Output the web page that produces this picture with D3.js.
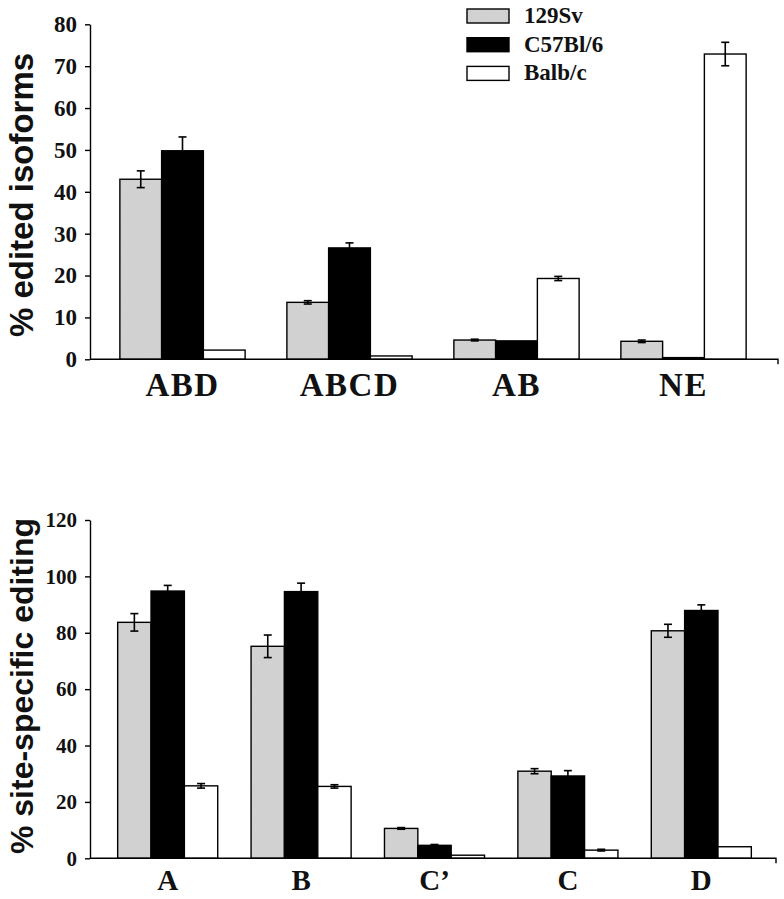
<!DOCTYPE html>
<html>
<head>
<meta charset="utf-8">
<script src="https://cdn.jsdelivr.net/npm/d3@7"></script>
<style>
  body { margin: 0; background: #fff; }
  svg text { fill: #111; }
  .tick text { font-family: "Liberation Serif", serif; font-weight: bold; }
</style>
</head>
<body>
<svg id="chart" width="784" height="899"></svg>
<script>
// strains (series)
var strains = ["129Sv", "C57Bl/6", "Balb/c"];
var fills = ["url(#speckle)", "#000000", "#ffffff"];

// top panel: isoforms
var isoforms = ["ABD", "ABCD", "AB", "NE"];
var isoMean = [
  [43.0, 49.8, 2.2],
  [13.6, 26.6, 0.8],
  [4.6, 4.4, 19.3],
  [4.3, 0.4, 72.9]
];
var isoErr = [
  [2.0, 3.3, 0],
  [0.4, 1.2, 0],
  [0.2, 0, 0.5],
  [0.3, 0, 2.8]
];
var isoTicks = [0, 10, 20, 30, 40, 50, 60, 70, 80];

// bottom panel: editing sites
var sites = ["A", "B", "C\u2019", "C", "D"];
var siteMean = [
  [83.7, 94.8, 25.7],
  [75.2, 94.6, 25.5],
  [10.6, 4.6, 1.1],
  [30.9, 29.2, 2.9],
  [80.7, 87.9, 4.1]
];
var siteErr = [
  [3.1, 2.0, 0.8],
  [4.0, 3.0, 0.6],
  [0.3, 0.3, 0],
  [0.9, 1.9, 0.3],
  [2.3, 2.0, 0]
];
var siteTicks = [0, 20, 40, 60, 80, 100, 120];

var svg = d3.select("#chart");

// grainy light grey like the printed figure
var defs = svg.append("defs");
var filt = defs.append("filter").attr("id", "grain")
    .attr("x", 0).attr("y", 0).attr("width", 1).attr("height", 1);
filt.append("feTurbulence")
    .attr("type", "fractalNoise")
    .attr("baseFrequency", 0.9)
    .attr("numOctaves", 2)
    .attr("seed", 3);
filt.append("feColorMatrix")
    .attr("type", "matrix")
    .attr("values", "0 0 0 0 0.72  0 0 0 0 0.72  0 0 0 0 0.72  0 0 0 0.55 0");
var pat = defs.append("pattern").attr("id", "speckle")
    .attr("patternUnits", "userSpaceOnUse")
    .attr("width", 120).attr("height", 120);
pat.append("rect").attr("width", 120).attr("height", 120).style("fill", "#cdcdcd");
pat.append("rect").attr("width", 120).attr("height", 120).attr("filter", "url(#grain)");

function panel(opts) {
  var g = svg.append("g");

  var x0 = d3.scaleBand()
      .domain(opts.cats)
      .range(opts.xRange)
      .paddingInner(0.25)
      .paddingOuter(0.125);

  var x1 = d3.scaleBand()
      .domain(d3.range(strains.length))
      .range([0, x0.bandwidth()]);

  var y = d3.scaleLinear()
      .domain([0, opts.yMax])
      .range(opts.yRange);

  // bars
  var groups = g.selectAll(".grp")
      .data(opts.cats)
    .enter().append("g")
      .attr("transform", function(d) { return "translate(" + x0(d) + ",0)"; });

  groups.selectAll("rect")
      .data(function(d, i) {
        return opts.mean[i].map(function(v, j) { return {v: v, e: opts.err[i][j], s: j}; });
      })
    .enter().append("rect")
      .attr("x", function(d) { return x1(d.s); })
      .attr("width", x1.bandwidth())
      .attr("y", function(d) { return y(d.v); })
      .attr("height", function(d) { return y(0) - y(d.v); })
      .style("fill", function(d) { return fills[d.s]; })
      .style("stroke", "#000")
      .style("stroke-width", 1.4);

  // error bars
  var eb = groups.selectAll(".eb")
      .data(function(d, i) {
        return opts.mean[i].map(function(v, j) { return {v: v, e: opts.err[i][j], s: j}; })
          .filter(function(d) { return d.e > 0; });
      })
    .enter().append("g")
      .attr("class", "eb")
      .style("stroke", "#000")
      .style("stroke-width", 1.6);

  var cx = function(d) { return x1(d.s) + x1.bandwidth() / 2; };
  eb.append("line")
      .attr("x1", cx).attr("x2", cx)
      .attr("y1", function(d) { return y(d.v + d.e); })
      .attr("y2", function(d) { return y(d.v - d.e); });
  eb.append("line")
      .attr("x1", function(d) { return cx(d) - 4; })
      .attr("x2", function(d) { return cx(d) + 4; })
      .attr("y1", function(d) { return y(d.v + d.e); })
      .attr("y2", function(d) { return y(d.v + d.e); });
  eb.append("line")
      .attr("x1", function(d) { return cx(d) - 4; })
      .attr("x2", function(d) { return cx(d) + 4; })
      .attr("y1", function(d) { return y(d.v - d.e); })
      .attr("y2", function(d) { return y(d.v - d.e); });

  // y axis
  var ya = g.append("g")
      .attr("transform", "translate(" + opts.axisX + ",0)")
      .call(d3.axisLeft(y).tickValues(opts.ticks).tickSize(5).tickSizeOuter(0).tickPadding(8));
  ya.selectAll("path, line").style("stroke", "#000").style("stroke-width", 1.4);
  ya.selectAll("text").style("font-size", opts.tickFont + "px").style("fill", "#111");

  // x axis line with end tick
  g.append("path")
      .attr("d", "M" + opts.axisX + "," + y(0) + "H" + opts.axisEnd + "V" + (y(0) + 5))
      .style("fill", "none")
      .style("stroke", "#000")
      .style("stroke-width", 1.4);

  var xa = g.append("g")
      .attr("transform", "translate(0," + y(0) + ")")
      .call(d3.axisBottom(x0).tickSize(0).tickPadding(opts.labelPad));
  xa.select(".domain").remove();
  xa.selectAll("text")
      .style("font-size", opts.labelFont + "px")
      .style("letter-spacing", opts.labelSpace + "px")
      .style("fill", "#111");

  // y title
  g.append("text")
      .attr("transform", "translate(" + opts.titleX + "," + opts.titleY + ") rotate(-90)")
      .attr("text-anchor", "middle")
      .style("font-family", "'Liberation Sans', Arial, sans-serif")
      .style("font-weight", "bold")
      .style("font-size", opts.titleFont + "px")
      .text(opts.title);
}

panel({
  cats: isoforms, mean: isoMean, err: isoErr, ticks: isoTicks,
  yMax: 80, yRange: [359.3, 24.3], xRange: [99, 767],
  axisX: 90, axisEnd: 778, tickFont: 23, labelFont: 33, labelSpace: 1.5, labelPad: 13,
  title: "% edited isoforms", titleX: 33, titleY: 195, titleFont: 33
});

panel({
  cats: sites, mean: siteMean, err: siteErr, ticks: siteTicks,
  yMax: 120, yRange: [858.3, 520], xRange: [101, 768],
  axisX: 90, axisEnd: 776, tickFont: 21, labelFont: 29, labelSpace: 0, labelPad: 11,
  title: "% site-specific editing", titleX: 33, titleY: 686, titleFont: 32
});

// legend
var legend = svg.append("g")
    .attr("transform", "translate(467,23)");

var item = legend.selectAll("g")
    .data(strains)
  .enter().append("g")
    .attr("transform", function(d, i) { return "translate(0," + (i * 28.7) + ")"; });

item.append("rect")
    .attr("x", 0)
    .attr("y", -14)
    .attr("width", 42)
    .attr("height", 14)
    .style("fill", function(d, i) { return fills[i]; })
    .style("stroke", "#000")
    .style("stroke-width", 1.4);

item.append("text")
    .attr("x", 57)
    .attr("y", 0)
    .style("font-family", "'Liberation Serif', serif")
    .style("font-weight", "bold")
    .style("font-size", "23px")
    .text(function(d) { return d; });
</script>
</body>
</html>
